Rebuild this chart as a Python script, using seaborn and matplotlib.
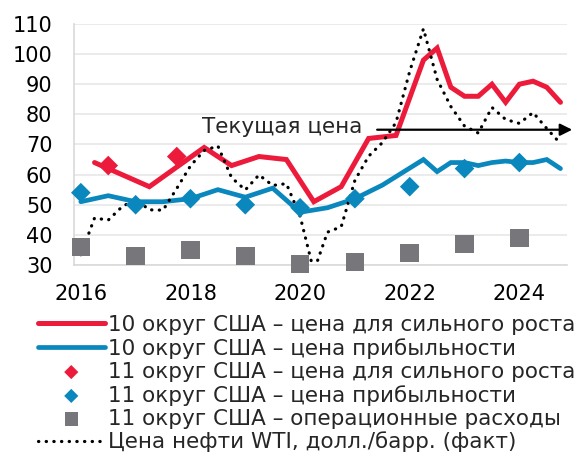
import matplotlib
matplotlib.use('Agg')
import pandas as pd
import seaborn as sns
import matplotlib.pyplot as plt


# квартал -> дробный год (середина квартала)
def q2x(q):
	return int(q[:4]) + (int(q[5]) - 0.5) / 4


# 10 округ – цена для сильного роста
red_q = ['2016Q2', '2017Q2', '2018Q2', '2018Q4', '2019Q2', '2019Q4', '2020Q2', '2020Q4',
		 '2021Q2', '2021Q4', '2022Q2', '2022Q3', '2022Q4', '2023Q1', '2023Q2', '2023Q3',
		 '2023Q4', '2024Q1', '2024Q2', '2024Q3', '2024Q4']
red_v = [64, 56, 69, 63, 66, 65, 51, 56, 72, 73, 98, 102, 89, 86, 86, 90, 84, 90, 91, 89, 84]

# 10 округ – цена прибыльности
blue_q = ['2016Q1', '2016Q3', '2017Q1', '2017Q3', '2018Q1', '2018Q3', '2019Q1', '2019Q3',
		  '2020Q1', '2020Q3', '2021Q1', '2021Q3', '2022Q2', '2022Q3', '2022Q4', '2023Q1',
		  '2023Q2', '2023Q3', '2023Q4', '2024Q1', '2024Q2', '2024Q3', '2024Q4']
blue_v = [51, 53, 51, 51, 52, 55, 52.5, 55.5, 47.5, 49, 52, 56.5, 65, 61, 64, 64,
		  63, 64, 64.5, 64, 64, 65, 62]

# 11 округ – опрос раз в год (1 кв.)
d11_q = ['2016Q1', '2017Q1', '2018Q1', '2019Q1', '2020Q1', '2021Q1', '2022Q1', '2023Q1', '2024Q1']
d11_be = [54, 50, 52, 50, 49, 52, 56, 62, 64]
d11_opex = [36, 33, 35, 33, 30.3, 31, 34, 37, 39]
d11_gr_q = ['2016Q3', '2017Q4']
d11_gr = [63, 66]

# WTI, квартальные средние
wti_q = [f'{y}Q{q}' for y in range(2016, 2025) for q in range(1, 5)]
wti_v = [33.4, 45.6, 44.9, 49.3, 51.8, 48.3, 48.2, 55.4, 62.9, 68.0, 69.5, 59.0,
		 54.9, 59.9, 56.4, 57.0, 46.2, 27.9, 40.9, 42.7, 58.1, 66.1, 70.6, 77.3,
		 94.3, 108.4, 91.6, 82.6, 76.1, 73.8, 82.3, 78.3, 77.0, 80.6, 75.3, 70.3]

years = list(range(2016, 2026))
year_labels = ['2016', '2018', '2020', '2022', '2024']

labels = ['10 округ США – цена для сильного роста',
		  '10 округ США – цена прибыльности',
		  '11 округ США – цена для сильного роста',
		  '11 округ США – цена прибыльности',
		  '11 округ США – операционные расходы',
		  'Цена нефти WTI, долл./барр. (факт)']

RED = '#ed1b3b'
BLUE = '#0a87bd'
GREY = '#77777b'
LGREY = '#d9d9d9'

sns.set_style('white')
plt.rcParams['font.family'] = ['DejaVu Sans']

fig = plt.figure(figsize=(5.83, 4.61), dpi=100)
ax = fig.add_axes([0.1269, 0.4252, 0.8462, 0.5228])

sns.lineplot(x=[q2x(q) for q in red_q], y=red_v, color=RED, linewidth=3.6,
			 label=labels[0], ax=ax, zorder=3, solid_joinstyle='miter')
sns.lineplot(x=[q2x(q) for q in blue_q], y=blue_v, color=BLUE, linewidth=3.4,
			 label=labels[1], ax=ax, zorder=3, solid_joinstyle='miter')
sns.scatterplot(x=[q2x(q) for q in d11_gr_q], y=d11_gr, color=RED, marker='D', s=100,
				edgecolor='none', label=labels[2], ax=ax, zorder=5, clip_on=False)
sns.scatterplot(x=[q2x(q) for q in d11_q], y=d11_be, color=BLUE, marker='D', s=100,
				edgecolor='none', label=labels[3], ax=ax, zorder=5, clip_on=False)
sns.scatterplot(x=[q2x(q) for q in d11_q], y=d11_opex, color=GREY, marker='s', s=180,
				edgecolor='none', label=labels[4], ax=ax, zorder=5, clip_on=False)
sns.lineplot(x=[q2x(q) for q in wti_q], y=wti_v, color='black', linewidth=2.3,
			 linestyle=(0, (0.1, 2.3)), dash_capstyle='round',
			 label=labels[5], ax=ax, zorder=4)

ax.set_xlim(2016, 2025)
ax.set_ylim(30, 110)
ax.set_yticks(range(30, 111, 10))
# штрихи на границах лет, подписи – по центру 1 кв.
ax.set_xticks(years)
ax.set_xticklabels([])
ax.set_xticks([int(y) + 0.125 for y in year_labels], minor=True)
ax.set_xticklabels(year_labels, minor=True)
ax.grid(axis='y', color='#e8e8e8', linewidth=1.2)
ax.set_axisbelow(True)
for s in ['top', 'right']:
	ax.spines[s].set_visible(False)
for s in ['left', 'bottom']:
	ax.spines[s].set_color(LGREY)
	ax.spines[s].set_linewidth(1.2)
ax.tick_params(axis='both', which='both', labelsize=15, colors=LGREY, labelcolor='black', width=1.2)
ax.tick_params(axis='y', length=5, pad=10.5)
ax.tick_params(axis='x', which='major', length=5.8)
ax.tick_params(axis='x', which='minor', length=0, pad=14)
ax.set_xlabel('')
ax.set_ylabel('')

ax.text(2018.33, 75.7, 'Текущая цена', fontsize=15.5, va='center', ha='left')
ax.annotate('', xy=(2025.14, 74.9), xytext=(2021.48, 74.9), annotation_clip=False,
			arrowprops=dict(arrowstyle='-|>', color='black', lw=1.6, mutation_scale=18))

h, l = ax.get_legend_handles_labels()
ax.legend(h, l, loc='upper left', bbox_to_anchor=(0.065, 0.317), bbox_transform=fig.transFigure,
		  frameon=False, fontsize=15.5, borderaxespad=0, borderpad=0, handlelength=3.1,
		  handletextpad=0.14, labelspacing=0.14, markerscale=0.72)

fig.savefig('out.png', dpi=100)
